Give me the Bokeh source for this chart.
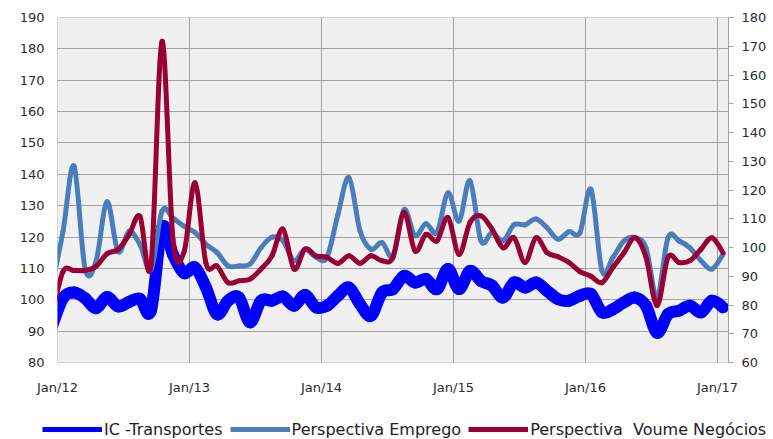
import pandas as pd
from bokeh.plotting import figure
from bokeh.layouts import column
from bokeh.models import (Range1d, LinearAxis, FixedTicker, SingleIntervalTicker,
                          Legend, LegendItem, ColumnDataSource)
from bokeh.embed import file_html
from bokeh.resources import INLINE

# Monthly observations, Dec/11 .. Jan/17
periods = pd.period_range("2011-12", "2017-01", freq="M")

# IC - Transportes (left axis)
ic_transportes = [91.5, 100.5, 102.3, 100.5, 97.3, 100.9, 97.9, 99.3, 100.3, 96.6, 123.0, 114.4, 108.5,
                  110.3, 103.9, 95.4, 99.7, 100.7, 92.8, 99.7, 99.7, 101.0, 98.1, 101.5, 97.6,
                  98.1, 101.3, 103.9, 98.6, 94.9, 102.3, 103.4, 107.6, 105.5, 106.6, 103.4, 109.8,
                  103.4, 109.2, 106.0, 104.5, 100.7, 105.5, 103.9, 105.5, 102.9, 100.2, 99.7, 101.3,
                  101.8, 96.0, 97.0, 99.2, 100.7, 98.1, 89.5, 95.4, 96.5, 98.1, 96.0, 99.7, 97.6]

# Perspectiva Emprego (right axis)
persp_emprego = [86.8, 105.6, 128.3, 92.8, 95.1, 115.9, 98.6, 105.6, 101.0, 92.3, 112.6, 110.2, 107.4,
                 105.2, 101.1, 98.3, 93.6, 93.6, 94.2, 99.9, 103.6, 102.3, 95.4, 99.4, 96.6,
                 96.6, 111.6, 124.3, 105.8, 99.4, 101.7, 97.1, 113.2, 104.1, 108.3, 105.2, 119.0,
                 109.2, 123.2, 102.3, 105.2, 102.3, 107.9, 107.9, 109.9, 106.9, 102.9, 105.5, 105.2,
                 120.2, 91.9, 96.6, 102.3, 103.4, 99.9, 82.6, 103.4, 102.3, 99.9, 95.4, 92.5, 97.6]

# Perspectiva Volume Negocios (right axis)
persp_volume = [76.4, 91.6, 92.0, 92.0, 93.4, 97.8, 99.3, 104.4, 110.8, 94.0, 171.7, 102.7, 98.4,
                122.5, 94.5, 93.6, 87.8, 88.4, 89.0, 92.5, 97.1, 106.4, 92.5, 99.4, 97.1,
                96.6, 94.5, 97.1, 94.5, 97.1, 95.4, 96.6, 112.2, 98.8, 104.6, 102.3, 110.4,
                97.6, 108.7, 111.0, 106.4, 99.9, 103.4, 94.8, 103.4, 98.2, 96.8, 94.8, 91.6,
                90.0, 87.8, 93.1, 98.2, 103.4, 96.6, 79.8, 96.6, 94.8, 95.4, 99.4, 103.4, 98.2]

tick_labels = ["Jan/12", "Jan/13", "Jan/14", "Jan/15", "Jan/16", "Jan/17"]
series_names = ["IC -Transportes", "Perspectiva Emprego", "Perspectiva  Voume Negócios"]

# month index relative to Jan/12; points sit in the middle of each month
base = pd.Period("2012-01", freq="M")
x_pos = [(p - base).n + 0.5 for p in periods]
year_ticks = [12 * i for i in range(len(tick_labels))]

FONT = "DejaVu Sans"

p = figure(width=773, height=400, output_backend="svg", toolbar_location=None,
           x_range=Range1d(0, 61), y_range=Range1d(80, 190),
           min_border_left=57, min_border_right=45, min_border_top=17, min_border_bottom=38)
p.frame_align = False
p.background_fill_color = "#F0F0F0"
p.border_fill_color = "white"
p.outline_line_color = "#D4D4D4"
p.outline_line_width = 1

p.extra_y_ranges = {"right": Range1d(60, 180)}

# x axis: yearly ticks, no line
p.xaxis.ticker = FixedTicker(ticks=year_ticks)
p.xaxis.major_label_overrides = {t: lab for t, lab in zip(year_ticks, tick_labels)}
p.xaxis.axis_line_color = None
p.xaxis.major_tick_line_color = None
p.xaxis.minor_tick_line_color = None
p.xaxis.major_label_standoff = 11

# left axis
p.yaxis.ticker = SingleIntervalTicker(interval=10)
p.yaxis.axis_line_color = None
p.yaxis.major_tick_line_color = None
p.yaxis.minor_tick_line_color = None
p.yaxis.major_label_standoff = 7

# right axis
raxis = LinearAxis(y_range_name="right", ticker=SingleIntervalTicker(interval=10))
raxis.axis_line_color = "#A0A0A0"
raxis.major_tick_line_color = "#A0A0A0"
raxis.major_tick_out = 5
raxis.major_tick_in = 0
raxis.minor_tick_line_color = None
raxis.major_label_standoff = 8
p.add_layout(raxis, "right")

for ax in [p.xaxis[0], p.yaxis[0], raxis]:
    ax.major_label_text_font = FONT
    ax.major_label_text_font_size = "13px"
    ax.major_label_text_color = "#2B2B2B"

p.xgrid.ticker = FixedTicker(ticks=year_ticks)
for g in [p.xgrid[0], p.ygrid[0]]:
    g.grid_line_color = "#A3A3A3"
    g.grid_line_width = 1


def smooth_segments(xs, ys):
    """Cubic Bezier pieces through every point (Catmull-Rom style smoothing)."""
    n = len(xs)
    d = dict(x0=[], y0=[], x1=[], y1=[], cx0=[], cy0=[], cx1=[], cy1=[])
    for i in range(n - 1):
        a = max(i - 1, 0)
        b = min(i + 2, n - 1)
        d["x0"].append(xs[i]); d["y0"].append(ys[i])
        d["x1"].append(xs[i + 1]); d["y1"].append(ys[i + 1])
        d["cx0"].append(xs[i] + (xs[i + 1] - xs[a]) / 6)
        d["cy0"].append(ys[i] + (ys[i + 1] - ys[a]) / 6)
        d["cx1"].append(xs[i + 1] - (xs[b] - xs[i]) / 6)
        d["cy1"].append(ys[i + 1] - (ys[b] - ys[i]) / 6)
    return ColumnDataSource(d)


styles = [
    (ic_transportes, "#0000FF", 12, "default"),
    (persp_emprego, "#4A7EBB", 5, "right"),
    (persp_volume, "#990033", 5, "right"),
]

# Strip under the chart that carries the legend; its ranges keep the key lines out of view
leg_fig = figure(width=773, height=39, output_backend="svg", toolbar_location=None,
                 x_axis_type=None, y_axis_type=None,
                 x_range=Range1d(-100, -99), y_range=Range1d(1000, 1001),
                 min_border=0)
leg_fig.frame_align = False
leg_fig.outline_line_color = None
leg_fig.background_fill_color = "white"
leg_fig.border_fill_color = "white"
leg_fig.xgrid.visible = False
leg_fig.ygrid.visible = False

items = []
for (vals, color, lw, rng), name in zip(styles, series_names):
    src = smooth_segments(x_pos, vals)
    p.bezier(x0="x0", y0="y0", x1="x1", y1="y1", cx0="cx0", cy0="cy0", cx1="cx1", cy1="cy1",
             source=src, line_color=color, line_width=lw, line_cap="round", line_join="round",
             y_range_name=rng)
    key = leg_fig.line(x=x_pos, y=vals, line_color=color, line_width=5)
    items.append(LegendItem(label=name, renderers=[key]))

legend = Legend(items=items, orientation="horizontal", location=(42, 0),
                glyph_width=60, glyph_height=20, label_height=20, label_standoff=2,
                spacing=7, padding=0, margin=0,
                label_text_font=FONT, label_text_font_size="16px", label_text_color="#222222",
                background_fill_alpha=0, border_line_alpha=0)
leg_fig.add_layout(legend)

layout = column(p, leg_fig, spacing=0)
open("out.html", "w").write(file_html(layout, INLINE))
